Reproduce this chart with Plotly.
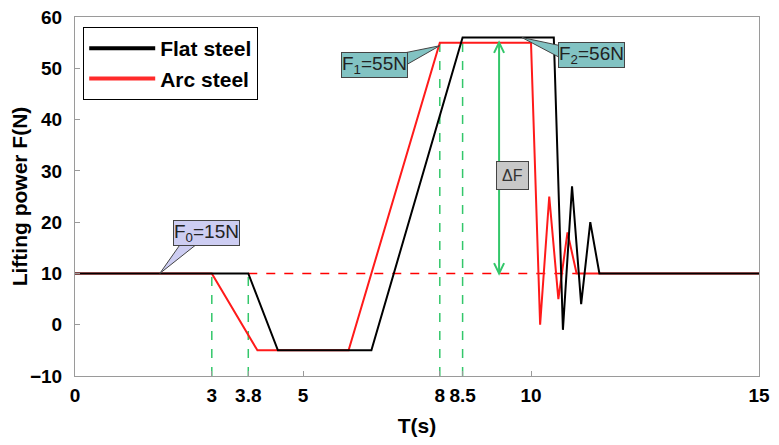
import plotly.graph_objects as go

# ---- data ----
t_flat = [0, 3.8, 4.45, 6.5, 8.5, 10.5, 10.7, 10.9, 11.1, 11.3, 11.5, 15]
f_flat = [10, 10, -5, -5, 56, 56, -1, 27, 4, 20, 10, 10]
t_arc = [0, 3, 4, 6, 8, 10, 10.2, 10.4, 10.6, 10.8, 11.0, 15]
f_arc = [10, 10, -5, -5, 55, 55, 0, 25, 5, 18, 10, 10]

ref_t = [3, 3.8, 8, 8.5]          # green dashed markers
ref_f = [10, 10, 55, 56]
base_t = [3.8, 11.0]              # red dashed baseline
base_f = [10, 10]
y_min = -10
delta_t = 9.3
delta_f = [10, 55]

x_ticks = [0, 3, 3.8, 5, 8, 8.5, 10, 15]
x_tick_text = ["0", "3", "3.8", "5", "8", "8.5", "10", "15"]
y_ticks = [-10, 0, 10, 20, 30, 40, 50, 60]

FONT = "Liberation Sans, Arial, sans-serif"
GREEN = "#33c76a"
TEAL = "#82c3c3"
LAV = "#cdcdf2"

fig = go.Figure()

# green dashed reference verticals
for t, f in zip(ref_t, ref_f):
    fig.add_trace(go.Scatter(x=[t, t], y=[y_min, f], mode="lines",
                             line=dict(color=GREEN, width=1.5, dash="dash"),
                             showlegend=False, hoverinfo="skip"))
# red dashed baseline
fig.add_trace(go.Scatter(x=base_t, y=base_f, mode="lines",
                         line=dict(color="#ff0000", width=1.5, dash="dash"),
                         showlegend=False, hoverinfo="skip"))
# delta F arrow line
fig.add_trace(go.Scatter(x=[delta_t, delta_t], y=delta_f, mode="lines",
                         line=dict(color=GREEN, width=2),
                         showlegend=False, hoverinfo="skip"))

fig.add_trace(go.Scatter(x=t_arc, y=f_arc, mode="lines", name="Arc steel",
                         line=dict(color="#ff1a1a", width=2), showlegend=False))
fig.add_trace(go.Scatter(x=t_flat, y=f_flat, mode="lines", name="Flat steel",
                         line=dict(color="#000000", width=2), showlegend=False))
# legend entries (thicker sample lines as in the reference)
fig.add_trace(go.Scatter(x=[None], y=[None], mode="lines", name="Flat steel",
                         line=dict(color="#000000", width=4)))
fig.add_trace(go.Scatter(x=[None], y=[None], mode="lines", name="Arc steel",
                         line=dict(color="#ff2a2a", width=4)))

shapes = []
# arrow heads (open V)
hx, hy = 0.11, 2.0
shapes.append(dict(type="path", xref="x", yref="y",
                   path=f"M {delta_t-hx},{delta_f[1]-hy} L {delta_t},{delta_f[1]} L {delta_t+hx},{delta_f[1]-hy}",
                   line=dict(color=GREEN, width=2)))
shapes.append(dict(type="path", xref="x", yref="y",
                   path=f"M {delta_t-hx},{delta_f[0]+hy} L {delta_t},{delta_f[0]} L {delta_t+hx},{delta_f[0]+hy}",
                   line=dict(color=GREEN, width=2)))
# callout wedges
shapes.append(dict(type="path", xref="x", yref="y",
                   path="M 2.35,16.2 L 1.86,10 L 2.74,16.2 Z",
                   fillcolor=LAV, line=dict(color="#444444", width=1)))
shapes.append(dict(type="path", xref="x", yref="y",
                   path="M 7.0,52.6 L 8.0,54.4 L 7.25,50.6 Z",
                   fillcolor=TEAL, line=dict(color="#444444", width=1)))
shapes.append(dict(type="path", xref="x", yref="y",
                   path="M 10.65,54.4 L 9.8,56 L 10.65,52.0 Z",
                   fillcolor=TEAL, line=dict(color="#444444", width=1)))

annotations = [
    dict(x=2.88, y=17.9, xref="x", yref="y", text="F<sub>0</sub>=15N", showarrow=False,
         font=dict(family=FONT, size=19, color="#222"), bgcolor=LAV,
         bordercolor="#444444", borderwidth=1, borderpad=0),
    dict(x=6.57, y=50.6, xref="x", yref="y", text="F<sub>1</sub>=55N", showarrow=False,
         font=dict(family=FONT, size=19, color="#222"), bgcolor=TEAL,
         bordercolor="#444444", borderwidth=1, borderpad=0),
    dict(x=11.33, y=52.6, xref="x", yref="y", text="F<sub>2</sub>=56N", showarrow=False,
         font=dict(family=FONT, size=19, color="#222"), bgcolor=TEAL,
         bordercolor="#444444", borderwidth=1, borderpad=0),
    dict(x=9.59, y=29, xref="x", yref="y", text="ΔF", showarrow=False,
         font=dict(family=FONT, size=16, color="#333"), bgcolor="#c8c8c8",
         bordercolor="#444444", borderwidth=1, borderpad=5),
]

# the page adds an 8px body margin, so the figure is sized to fit inside it
fig.update_layout(
    width=763, height=429,
    margin=dict(l=67, r=12, t=9, b=61, autoexpand=False),
    plot_bgcolor="white", paper_bgcolor="white",
    font=dict(family=FONT, color="#000"),
    shapes=shapes, annotations=annotations,
    legend=dict(x=0.012, y=0.972, xanchor="left", yanchor="top",
                bgcolor="white", bordercolor="#000", borderwidth=1,
                font=dict(family=FONT, size=21, color="#000", weight="bold"),
                itemwidth=66, tracegroupgap=0),
    xaxis=dict(range=[0, 15], tickvals=x_ticks, ticktext=x_tick_text,
               showgrid=False, zeroline=False, showline=True, linecolor="#9a9a9a",
               linewidth=1, mirror=True, ticks="inside", ticklen=5, tickcolor="#9a9a9a",
               tickfont=dict(family=FONT, size=19, weight="bold"),
               ticklabelstandoff=2, automargin=False, ticklabeloverflow="allow",
               title=dict(text="T(s)", font=dict(family=FONT, size=21, weight="bold"), standoff=15)),
    yaxis=dict(range=[-10, 60], tickvals=y_ticks,
               showgrid=False, zeroline=False, showline=True, linecolor="#9a9a9a",
               linewidth=1, mirror=True, ticks="inside", ticklen=5, tickcolor="#9a9a9a",
               tickfont=dict(family=FONT, size=19, weight="bold"),
               ticklabelstandoff=8, automargin=False, ticklabeloverflow="allow",
               title=dict(text="Lifting power F(N)", font=dict(family=FONT, size=21, weight="bold"), standoff=0)),
)

fig.write_html("out.html")
